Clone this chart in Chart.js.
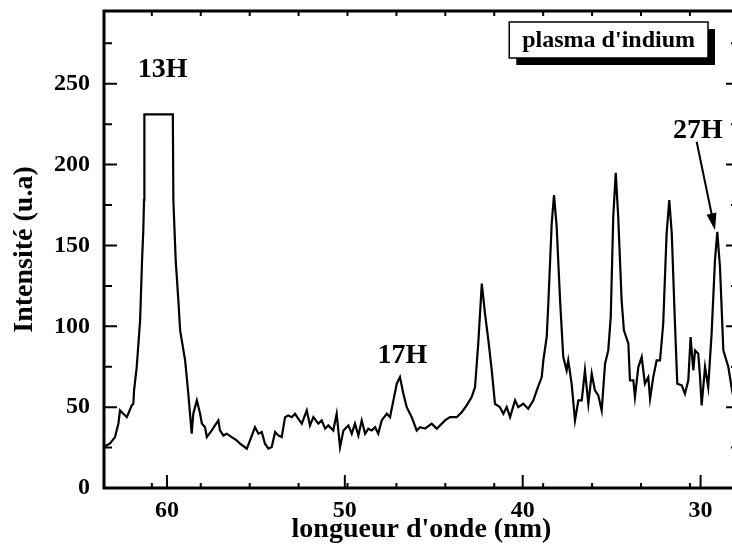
<!DOCTYPE html>
<html>
<head>
<meta charset="utf-8">
<script src="https://cdn.jsdelivr.net/npm/chart.js@4.4.1/dist/chart.umd.min.js"></script>
<style>
  html, body { margin: 0; padding: 0; background: #fff; overflow: hidden; }
  #wrap { width: 745px; height: 548px; }
</style>
</head>
<body>
<div id="wrap"><canvas id="spectrum" width="745" height="548"></canvas></div>
<script>
// spectrum: wavelength (nm) / intensity (u.a)
const wavelength = [
  63.57, 63.20, 62.92, 62.73, 62.64, 62.45, 62.26, 62.17, 61.98, 61.89,
  61.85, 61.70, 61.51, 61.40, 61.33, 61.29, 61.27, 59.67, 59.64, 59.51,
  59.36, 59.26, 58.98, 58.80, 58.61, 58.52, 58.32, 58.14, 58.04, 57.86,
  57.76, 57.48, 57.30, 57.11, 57.02, 56.83, 56.64, 56.36, 56.08, 55.89,
  55.51, 55.33, 55.05, 54.86, 54.67, 54.49, 54.30, 54.11, 53.92, 53.74,
  53.55, 53.36, 53.18, 52.98, 52.80, 52.61, 52.42, 52.14, 51.96, 51.77,
  51.49, 51.30, 51.11, 50.93, 50.65, 50.46, 50.27, 50.08, 49.80, 49.61,
  49.43, 49.24, 49.05, 48.86, 48.68, 48.49, 48.30, 48.12, 47.93, 47.64,
  47.46, 47.27, 47.08, 46.90, 46.71, 46.52, 46.24, 45.96, 45.77, 45.49,
  45.12, 44.83, 44.37, 44.09, 43.71, 43.43, 43.15, 42.87, 42.68, 42.50,
  42.30, 42.12, 41.93, 41.74, 41.56, 41.28, 41.09, 40.90, 40.71, 40.43,
  40.25, 39.97, 39.69, 39.40, 39.21, 38.93, 38.84, 38.65, 38.56, 38.37,
  38.24, 38.09, 37.90, 37.72, 37.53, 37.44, 37.25, 37.06, 36.87, 36.68,
  36.50, 36.31, 36.12, 35.94, 35.75, 35.56, 35.37, 35.19, 35.05, 34.91,
  34.77, 34.63, 34.44, 34.31, 34.06, 33.97, 33.78, 33.69, 33.50, 33.31,
  33.13, 32.94, 32.84, 32.66, 32.47, 32.28, 32.10, 31.91, 31.76, 31.62,
  31.44, 31.31, 31.06, 30.88, 30.69, 30.56, 30.41, 30.31, 30.13, 30.03,
  29.94, 29.75, 29.57, 29.38, 29.19, 29.06, 28.91, 28.72, 28.44, 28.23,
  28.12
];
const intensity = [
  25.3, 27.6, 31.5, 39.9, 48.0, 45.9, 43.8, 46.1, 51.1, 52.1,
  60.4, 74.8, 103.7, 140.9, 159.4, 178.0, 231.1, 231.1, 178.0, 140.9,
  116.1, 97.5, 78.9, 58.3, 33.6, 45.9, 54.2, 46.1, 39.9, 37.6,
  31.5, 35.6, 38.7, 41.8, 35.6, 32.5, 33.6, 31.5, 29.4, 27.4,
  24.3, 29.4, 37.6, 33.6, 34.6, 27.4, 24.3, 25.3, 34.6, 32.5,
  31.5, 43.8, 44.9, 43.8, 45.9, 42.8, 39.8, 48.0, 38.7, 43.8,
  39.8, 41.8, 36.7, 38.7, 35.6, 45.9, 25.3, 35.6, 38.7, 33.6,
  39.8, 32.5, 41.8, 33.6, 36.7, 35.6, 37.6, 33.6, 41.8, 45.9,
  43.8, 54.2, 64.5, 68.6, 58.3, 50.0, 43.8, 35.6, 37.6, 36.7,
  39.8, 36.7, 41.8, 43.8, 43.8, 46.9, 51.1, 56.2, 62.4, 89.3,
  126.4, 107.9, 91.3, 72.8, 52.1, 50.0, 45.9, 50.0, 43.8, 54.2,
  50.0, 52.1, 49.0, 54.2, 60.4, 68.6, 78.9, 93.4, 114.1, 163.6,
  181.1, 161.5, 116.1, 81.0, 72.8, 78.9, 64.5, 41.8, 54.2, 54.2,
  72.8, 52.1, 70.7, 60.4, 57.3, 48.0, 76.9, 85.1, 105.8, 167.7,
  194.9, 167.7, 116.1, 97.5, 89.3, 66.6, 66.6, 56.2, 74.8, 81.0,
  64.5, 68.6, 55.2, 68.6, 78.9, 78.9, 101.7, 157.4, 178.0, 157.4,
  101.7, 64.5, 63.5, 58.3, 66.6, 93.4, 72.8, 85.1, 83.1, 68.6,
  51.1, 74.8, 62.4, 95.5, 140.9, 158.4, 136.7, 85.1, 74.8, 60.4,
  54.2
];

const xTicks = [60, 50, 40, 30];
const xMinorTicks = [60.85, 58.1, 55.35, 52.6, 49.85, 47.1, 44.35, 41.6, 38.85, 36.1, 33.35, 30.6];
const yTicks = [0, 50, 100, 150, 200, 250];
const yMinorTicks = [25, 75, 125, 175, 225, 275];

// harmonic labels (text, nm, u.a) and the arrow pointing at 27H
const harmonicText = ['13H', '17H', '27H'];
const harmonicNm = [60.25, 46.76, 30.15];
const harmonicVal = [258.5, 82.0, 220.9];
const arrowNm = [30.22, 29.19];
const arrowVal = [214.1, 159.4];
const boxText = "plasma d'indium";

const serif = '"Liberation Serif", "Times New Roman", serif';

const frameAndNotes = {
  id: 'frameAndNotes',
  afterDatasetsDraw(chart) {
    const { ctx, chartArea: a, scales: { x, y } } = chart;
    ctx.save();
    ctx.strokeStyle = '#000';
    ctx.fillStyle = '#000';

    // inward tick marks on all four sides
    ctx.lineWidth = 2;
    ctx.beginPath();
    xTicks.forEach(v => {
      const px = x.getPixelForValue(v);
      ctx.moveTo(px, a.bottom); ctx.lineTo(px, a.bottom - 13);
    });
    xMinorTicks.forEach(v => {
      const px = x.getPixelForValue(v);
      ctx.moveTo(px, a.bottom); ctx.lineTo(px, a.bottom - 5);
      ctx.moveTo(px, a.top); ctx.lineTo(px, a.top + 5);
    });
    yTicks.forEach(v => {
      const py = y.getPixelForValue(v);
      ctx.moveTo(a.left, py); ctx.lineTo(a.left + 13, py);
      ctx.moveTo(a.right, py); ctx.lineTo(a.right - 13, py);
    });
    yMinorTicks.forEach(v => {
      const py = y.getPixelForValue(v);
      ctx.moveTo(a.left, py); ctx.lineTo(a.left + 8, py);
      ctx.moveTo(a.right, py); ctx.lineTo(a.right - 8, py);
    });
    ctx.stroke();

    ctx.lineWidth = 3;
    ctx.strokeRect(a.left, a.top, a.right - a.left, a.bottom - a.top);

    // harmonic orders
    ctx.font = 'bold 28px ' + serif;
    ctx.textAlign = 'center';
    ctx.textBaseline = 'middle';
    harmonicText.forEach((t, i) => {
      ctx.fillText(t, x.getPixelForValue(harmonicNm[i]), y.getPixelForValue(harmonicVal[i]));
    });

    // arrow to 27H
    const x0 = x.getPixelForValue(arrowNm[0]), y0 = y.getPixelForValue(arrowVal[0]);
    const x1 = x.getPixelForValue(arrowNm[1]), y1 = y.getPixelForValue(arrowVal[1]);
    const ang = Math.atan2(y1 - y0, x1 - x0);
    ctx.lineWidth = 2;
    ctx.beginPath();
    ctx.moveTo(x0, y0);
    ctx.lineTo(x1 - 12 * Math.cos(ang), y1 - 12 * Math.sin(ang));
    ctx.stroke();
    ctx.beginPath();
    ctx.moveTo(x1, y1);
    ctx.lineTo(x1 - 17 * Math.cos(ang) + 5 * Math.sin(ang), y1 - 17 * Math.sin(ang) - 5 * Math.cos(ang));
    ctx.lineTo(x1 - 17 * Math.cos(ang) - 5 * Math.sin(ang), y1 - 17 * Math.sin(ang) + 5 * Math.cos(ang));
    ctx.closePath();
    ctx.fill();

    // shadowed label box
    ctx.font = 'bold 24px ' + serif;
    const bw = ctx.measureText(boxText).width + 26, bh = 36;
    const bx = a.right - 31 - bw, by = a.top + 11;
    ctx.fillRect(bx + 7, by + 7, bw, bh);
    ctx.fillStyle = '#fff';
    ctx.fillRect(bx, by, bw, bh);
    ctx.lineWidth = 1.5;
    ctx.strokeRect(bx, by, bw, bh);
    ctx.fillStyle = '#000';
    ctx.fillText(boxText, bx + bw / 2, by + bh / 2 + 1);

    ctx.restore();
  }
};

new Chart(document.getElementById('spectrum'), {
  type: 'line',
  data: {
    datasets: [{
      data: wavelength.map((w, i) => ({ x: w, y: intensity[i] })),
      borderColor: '#000',
      borderWidth: 2.2,
      pointRadius: 0,
      tension: 0,
      fill: false
    }]
  },
  options: {
    responsive: false,
    animation: false,
    devicePixelRatio: 1,
    layout: { padding: { top: 11, right: 6, left: 0, bottom: 0 } },
    plugins: { legend: { display: false }, tooltip: { enabled: false } },
    scales: {
      x: {
        type: 'linear',
        reverse: true,
        min: 27.84,
        max: 63.54,
        afterBuildTicks: s => { s.ticks = xTicks.map(v => ({ value: v })); },
        afterFit: s => { s.height = 60; s.paddingLeft = 0; s.paddingRight = 0; },
        grid: { display: false, drawTicks: false },
        border: { display: false },
        ticks: {
          color: '#000', padding: 8, maxRotation: 0, autoSkip: false,
          font: { family: serif, size: 24, weight: 'bold' }
        },
        title: {
          display: true, text: "longueur d'onde (nm)", color: '#000',
          font: { family: serif, size: 28, weight: 'bold' },
          padding: { top: 0, bottom: 1 }
        }
      },
      y: {
        min: 0,
        max: 295,
        afterBuildTicks: s => { s.ticks = yTicks.map(v => ({ value: v })); },
        afterFit: s => { s.width = 104; s.paddingTop = 0; s.paddingBottom = 0; },
        grid: { display: false, drawTicks: false },
        border: { display: false },
        ticks: {
          color: '#000', padding: 14,
          font: { family: serif, size: 24, weight: 'bold' }
        },
        title: {
          display: true, text: 'Intensité (u.a)', color: '#000',
          font: { family: serif, size: 28, weight: 'bold' },
          padding: { top: 8, bottom: 0 }
        }
      }
    }
  },
  plugins: [frameAndNotes]
});
</script>
</body>
</html>
